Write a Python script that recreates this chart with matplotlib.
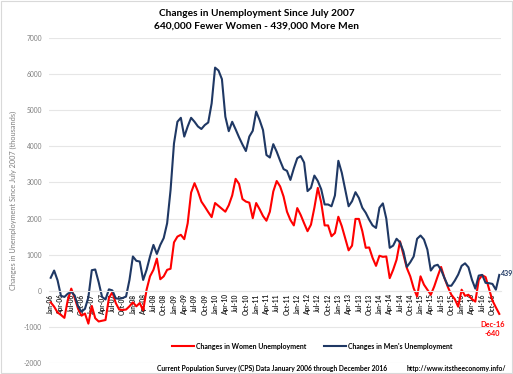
import matplotlib
matplotlib.use("Agg")
import matplotlib.pyplot as plt
import numpy as np
import pandas as pd
from matplotlib.patches import Rectangle

months = pd.date_range("2006-01-01", "2016-12-01", freq="MS")
month_labels = [d.strftime("%b-%y") for d in months]

men = [360, 560, 290, -140, -170, -80, -30, -130, -430, -580, -500, -180,
       570, 590, 240, -170, -240, 40, 10, -210, -220, -200, -160, 300,
       950, 830, 810, 300, 580, 950, 1270, 1020, 1270, 1460, 1870, 2790,
       4080, 4680, 4790, 4270, 4550, 4790, 4680, 4550, 4480, 4590, 4660, 5190,
       6180, 6100, 5860, 4820, 4420, 4680, 4470, 4250, 4050, 3870, 4270, 4430,
       4960, 4730, 4450, 3760, 3690, 4060, 3850, 3600, 3370, 3320, 3070, 3390,
       3670, 3730, 3550, 2760, 2850, 3190, 3040, 2810, 2390, 2390, 2340, 2640,
       3600, 3270, 2810, 2340, 2480, 2730, 2570, 2300, 2160, 1970, 1810, 1740,
       2300, 2420, 2000, 1190, 1250, 1440, 1340, 1090, 660, 790, 950, 1440,
       1530, 1420, 1140, 560, 690, 720, 580, 350, 140, 140, 280, 450,
       690, 760, 650, 310, 60, 420, 440, 220, 210, 190, 30, 439]

women = [-320, -440, -600, -670, -750, -250, 60, -200, -500, -690, -630, -910,
         -420, -760, -850, -830, -810, -200, -40, -340, -520, -530, -520, -430,
         -320, -430, -340, -540, 30, 400, 580, 890, 320, 400, 580, 610,
         1340, 1500, 1550, 1430, 1870, 2720, 2980, 2750, 2470, 2330, 2180, 2040,
         2430, 2350, 2270, 2190, 2370, 2640, 3100, 2960, 2540, 2470, 2440, 2010,
         2430, 2260, 2070, 1940, 2190, 2750, 3040, 2890, 2610, 2190, 1960, 1810,
         2290, 2100, 1870, 1650, 1830, 2300, 2850, 2440, 1810, 1810, 1510, 1600,
         2050, 1790, 1460, 1120, 1250, 1990, 1990, 1650, 1190, 1200, 910, 690,
         970, 940, 950, 350, 580, 860, 1370, 1000, 630, 400, 70, -160,
         400, 170, 30, -110, 120, 400, 660, 350, 100, -110, -230, -440,
         30, -140, -110, -230, -300, 300, 430, 380, 60, -270, -460, -640]

yticks = list(range(-2000, 7001, 1000))

FONT = ["Lato", "DejaVu Sans"]
plt.rcParams["font.family"] = FONT

navy = "#1F3864"
red = "#FF0000"

fig = plt.figure(figsize=(5.13, 3.74), dpi=100)
ax = fig.add_axes([49/513, 1 - 363/374, (501 - 49)/513, (363 - 38)/374])

x = np.arange(len(months))
l1, = ax.plot(x, women, color=red, lw=1.5, label="Changes in Women Unemployment")
l2, = ax.plot(x, men, color=navy, lw=1.5, label="Changes in Men's Unemployment")

ax.set_xlim(-0.5, len(months) - 0.5)
ax.set_ylim(-2000, 7000)
ax.set_yticks(yticks)
ax.set_yticklabels([str(v) for v in yticks], fontsize=4.8, color="#7F7F7F")
ax.grid(axis="y", color="#E6E6E6", lw=0.8)
ax.set_axisbelow(True)
for s in ["top", "right", "left"]:
    ax.spines[s].set_visible(False)
ax.spines["bottom"].set_position(("data", 0))
ax.spines["bottom"].set_color("#E6E6E6")
ax.spines["bottom"].set_linewidth(0.8)
ax.tick_params(axis="y", length=0, pad=5)
ax.tick_params(axis="x", length=0, pad=2)
tick_idx = list(range(0, len(months), 3))
ax.set_xticks(tick_idx)
ax.set_xticklabels([month_labels[i] for i in tick_idx], rotation=90,
                   fontsize=4.8, fontweight="bold", color="#262626")

ax.set_ylabel("Changes in Unemployment Since July 2007 (thousands)",
              fontsize=5.3, color="#7F7F7F", labelpad=5)

fig.text(0.5, 1 - 13/374, "Changes in Unemployment Since July 2007",
         ha="center", va="center", fontsize=7.3, fontweight="bold")
fig.text(0.5, 1 - 26/374, "640,000 Fewer Women - 439,000 More Men",
         ha="center", va="center", fontsize=7.3, fontweight="bold")

ax.annotate(str(men[-1]), xy=(x[-1], men[-1]), xytext=(1.5, 1),
            textcoords="offset points", ha="left", va="center",
            fontsize=5.0, fontweight="bold", color=navy)
ax.annotate("Dec-16\n" + str(women[-1]), xy=(x[-1], women[-1]), xytext=(-5, -5),
            textcoords="offset points", ha="center", va="top",
            fontsize=5.3, fontweight="bold", color=red, linespacing=1.3)

fig.legend(handles=[l1, l2], loc="center", bbox_to_anchor=(312/513, 1 - 346/374),
           ncol=2, frameon=False, handlelength=3.2,
           columnspacing=2.5, handletextpad=0.3,
           prop={"weight": "bold", "size": 5.0, "family": FONT})

fig.text(157/513, 1 - 368/374,
         "Current Population Survey (CPS) Data January 2006 through December 2016",
         ha="left", va="center", fontsize=4.9, fontweight="bold")
fig.text(506/513, 1 - 368/374, "http://www.itstheeconomy.info/",
         ha="right", va="center", fontsize=4.9, fontweight="bold")

fig.patches.append(Rectangle((0.002, 0.002), 0.996, 0.996, transform=fig.transFigure,
                             fill=False, edgecolor="#D9D9D9", lw=0.8))

fig.savefig("out.png", dpi=100)
